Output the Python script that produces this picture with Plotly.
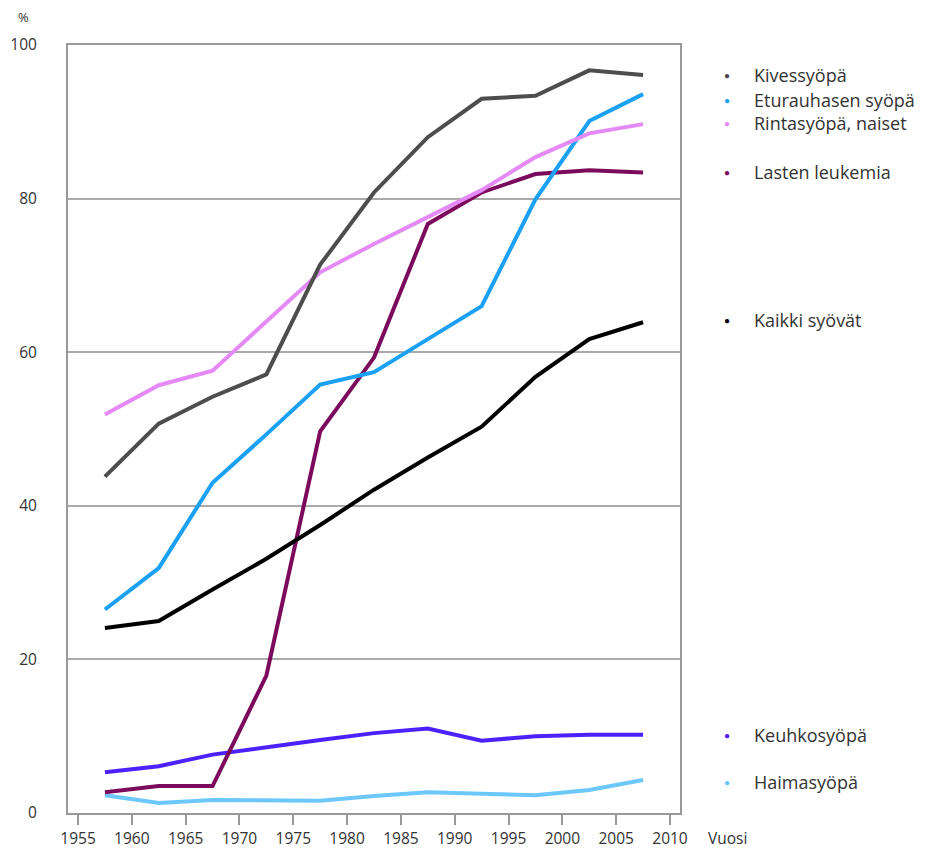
import plotly.graph_objects as go

years = [1957.5, 1962.5, 1967.5, 1972.5, 1977.5, 1982.5, 1987.5, 1992.5, 1997.5, 2002.5, 2007.5]

kivessyopa = [43.8, 50.7, 54.2, 57.1, 71.4, 80.8, 88.0, 93.0, 93.4, 96.7, 96.1]
eturauhanen = [26.5, 31.9, 43.0, 49.3, 55.8, 57.4, 61.7, 66.0, 79.9, 90.1, 93.6]
rintasyopa = [51.9, 55.7, 57.6, 64.0, 70.4, 74.1, 77.6, 81.1, 85.4, 88.5, 89.7]
leukemia = [2.7, 3.5, 3.5, 17.9, 49.7, 59.3, 76.7, 80.8, 83.2, 83.7, 83.4]
kaikki = [24.1, 25.0, 29.1, 33.1, 37.5, 42.1, 46.3, 50.3, 56.8, 61.7, 63.9]
keuhko = [5.3, 6.1, 7.6, 8.6, 9.5, 10.4, 11.0, 9.4, 10.0, 10.2, 10.2]
haima = [2.3, 1.3, 1.7, 1.7, 1.6, 2.2, 2.7, 2.5, 2.3, 3.0, 4.3]

series_names = ["Kivessyöpä", "Eturauhasen syöpä", "Rintasyöpä, naiset", "Lasten leukemia",
                "Kaikki syövät", "Keuhkosyöpä", "Haimasyöpä"]
series_values = [kivessyopa, eturauhanen, rintasyopa, leukemia, kaikki, keuhko, haima]
colors = ["#4d4d4d", "#1aa0f5", "#e589f7", "#7c0a5c", "#000000", "#4b22ff", "#6cc8fb"]
label_y = [96.1, 92.8, 89.8, 83.4, 64.2, 10.2, 4.0]

x_ticks = list(range(1955, 2011, 5))
y_ticks = [0, 20, 40, 60, 80, 100]

FONT = "Open Sans"
TXT = "#333333"

fig = go.Figure()
for i in [6, 5, 3, 4, 1, 2, 0]:
    fig.add_trace(go.Scatter(
        x=years, y=series_values[i], mode="lines", name=series_names[i],
        line=dict(color=colors[i], width=4), showlegend=False,
    ))

annotations = []
for name, c, ly in zip(series_names, colors, label_y):
    annotations.append(dict(
        x=1.0768, xref="paper", y=ly, yref="y", text="●", showarrow=False,
        font=dict(color=c, size=10, family=FONT), xanchor="center", yanchor="middle",
    ))
    annotations.append(dict(
        x=1.1176, xref="paper", y=ly, yref="y", text=name, showarrow=False,
        font=dict(color=TXT, size=18, family=FONT), xanchor="left", yanchor="middle",
    ))
annotations.append(dict(x=1.0425, xref="paper", y=-0.0326, yref="paper", text="Vuosi",
                        showarrow=False, font=dict(color=TXT, size=15.5, family=FONT),
                        xanchor="left", yanchor="middle"))
annotations.append(dict(x=-0.0719, xref="paper", y=1.036, yref="paper", text="%",
                        showarrow=False, font=dict(color=TXT, size=13, family=FONT),
                        xanchor="center", yanchor="middle"))

fig.update_layout(
    width=928, height=852,
    margin=dict(l=60, r=256, t=37, b=47, autoexpand=False),
    paper_bgcolor="white", plot_bgcolor="white",
    font=dict(family=FONT, color=TXT),
    annotations=annotations,
    xaxis=dict(range=[1954.07, 2010.93], tickvals=x_ticks, ticktext=[str(v) for v in x_ticks],
               ticks="outside", ticklen=10, tickwidth=1.5, tickcolor="#999999", automargin=False,
               showgrid=False, zeroline=False, showline=True, linecolor="#999999", linewidth=2,
               mirror=True, tickfont=dict(size=15.5, color=TXT, family=FONT)),
    yaxis=dict(range=[0, 100], tickvals=y_ticks, ticktext=[str(v) for v in y_ticks],
               ticks="", showgrid=True, gridcolor="#aaaaaa", gridwidth=1.5, automargin=False,
               zeroline=False, showline=True, linecolor="#999999", linewidth=2, mirror=True,
               ticklabelstandoff=26, tickfont=dict(size=15.5, color=TXT, family=FONT)),
)

fig.write_html("out.html")
